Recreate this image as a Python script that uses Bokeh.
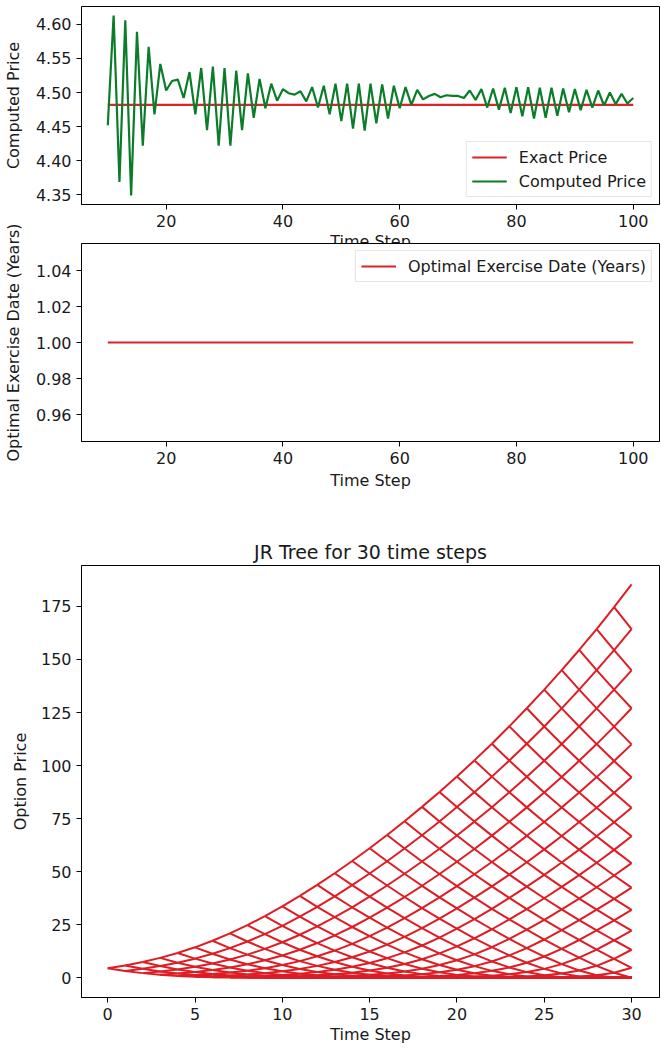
import numpy as np
from bokeh.plotting import figure
from bokeh.layouts import column
from bokeh.models import FixedTicker, PrintfTickFormatter, Legend, LegendItem
from bokeh.embed import file_html
from bokeh.resources import INLINE

# ---------------- data ----------------
time_steps = list(range(10, 101))
computed_price = [
    4.452, 4.613, 4.369, 4.606, 4.349, 4.589, 4.422, 4.567, 4.468, 4.542,   # 10-19
    4.503, 4.517, 4.519, 4.492, 4.530, 4.468, 4.536, 4.445, 4.538, 4.422,   # 20-29
    4.536, 4.422, 4.532, 4.445, 4.528, 4.463, 4.520, 4.477, 4.513, 4.488,   # 30-39
    4.505, 4.499, 4.497, 4.502, 4.487, 4.508, 4.478, 4.510, 4.468, 4.513,   # 40-49
    4.458, 4.513, 4.447, 4.513, 4.444, 4.513, 4.455, 4.512, 4.462, 4.510,   # 50-59
    4.477, 4.508, 4.482, 4.504, 4.490, 4.495, 4.498, 4.493, 4.496, 4.495,   # 60-69
    4.495, 4.492, 4.503, 4.489, 4.505, 4.478, 4.506, 4.475, 4.507, 4.470,   # 70-79
    4.508, 4.465, 4.508, 4.462, 4.507, 4.463, 4.507, 4.466, 4.506, 4.471,   # 80-89
    4.505, 4.474, 4.504, 4.478, 4.503, 4.481, 4.500, 4.483, 4.498, 4.484,   # 90-99
    4.492,                                                                   # 100
]
exact_price = 4.482
exercise_date = 1.00

# JR tree (30 steps): option values at the last step, read from the right edge
tree_steps = 30
terminal_values = [185.4, 164.3, 144.9, 127.0, 110.0, 94.5, 80.1, 66.7, 54.0,
                   42.5, 32.0, 22.2, 13.2, 4.7] + [0.0] * 17
step_discount = 0.9989
up_prob = 0.5

x_ticks_top = [20, 40, 60, 80, 100]
y_ticks_price = [4.35, 4.40, 4.45, 4.50, 4.55, 4.60]
y_ticks_date = [0.96, 0.98, 1.00, 1.02, 1.04]
x_ticks_tree = [0, 5, 10, 15, 20, 25, 30]
y_ticks_tree = [0, 25, 50, 75, 100, 125, 150, 175]

# ---------------- styling helpers ----------------
FONT = "DejaVu Sans"
TXT = "#1a1a1a"
RED = "#d62728"
TREE_RED = "#de1c24"
GREEN = "#0b7d2a"


def style(p):
    p.background_fill_color = "white"
    p.outline_line_color = "black"
    p.outline_line_width = 1
    p.xgrid.visible = False
    p.ygrid.visible = False
    for ax in (p.xaxis, p.yaxis):
        ax.axis_line_color = "black"
        ax.major_tick_out = 5
        ax.major_tick_in = 0
        ax.minor_tick_line_color = None
        ax.major_label_text_font = FONT
        ax.major_label_text_font_size = "16px"
        ax.major_label_text_color = TXT
        ax.axis_label_text_font = FONT
        ax.axis_label_text_font_size = "16px"
        ax.axis_label_text_font_style = "normal"
        ax.axis_label_text_color = TXT
        ax.major_label_standoff = 5


# ---------------- panel 1: computed price ----------------
p1 = figure(width=661, height=256, output_backend="svg", toolbar_location=None,
            x_range=(5.5, 104.5), y_range=(4.3358, 4.6262),
            min_border_left=79, min_border_right=1, min_border_top=6,
            min_border_bottom=52)
style(p1)
p1.xaxis.ticker = FixedTicker(ticks=x_ticks_top)
p1.yaxis.ticker = FixedTicker(ticks=y_ticks_price)
p1.yaxis.formatter = PrintfTickFormatter(format="%.2f")
p1.xaxis.axis_label = "Time Step"
p1.xaxis.axis_label_standoff = 2
p1.yaxis.axis_label = "Computed Price"
p1.yaxis.axis_label_standoff = 10

r_exact = p1.line(time_steps, [exact_price] * len(time_steps), line_color=RED, line_width=2.2)
r_comp = p1.line(time_steps, computed_price, line_color=GREEN, line_width=2.2)
leg1 = Legend(items=[LegendItem(label="Exact Price", renderers=[r_exact]),
                     LegendItem(label="Computed Price", renderers=[r_comp])],
              location="bottom_right")
p1.add_layout(leg1)

# ---------------- panel 2: optimal exercise date ----------------
p2 = figure(width=661, height=278, output_backend="svg", toolbar_location=None,
            x_range=(5.5, 104.5), y_range=(0.945, 1.055),
            min_border_left=79, min_border_right=1, min_border_top=21,
            min_border_bottom=59, margin=(-34, 0, 0, 0))
style(p2)
p2.border_fill_alpha = 0
p2.xaxis.ticker = FixedTicker(ticks=x_ticks_top)
p2.yaxis.ticker = FixedTicker(ticks=y_ticks_date)
p2.yaxis.formatter = PrintfTickFormatter(format="%.2f")
p2.xaxis.axis_label = "Time Step"
p2.xaxis.axis_label_standoff = 4
p2.yaxis.axis_label = "Optimal Exercise Date (Years)"
p2.yaxis.axis_label_standoff = 10
r_date = p2.line(time_steps, [exercise_date] * len(time_steps), line_color=RED, line_width=2.2)
leg2 = Legend(items=[LegendItem(label="Optimal Exercise Date (Years)", renderers=[r_date])],
              location="top_right")
p2.add_layout(leg2)

for lg in (leg1, leg2):
    lg.label_text_font = FONT
    lg.label_text_font_size = "16px"
    lg.label_text_color = TXT
    lg.border_line_color = "#cccccc"
    lg.border_line_width = 1
    lg.background_fill_alpha = 0.9
    lg.glyph_width = 35
    lg.glyph_height = 20
    lg.label_height = 20
    lg.label_standoff = 12
    lg.spacing = 4
    lg.padding = 5
    lg.margin = 7

# ---------------- panel 3: JR tree ----------------
levels = [list(terminal_values)]
for i in range(tree_steps - 1, -1, -1):
    nxt = levels[0]
    cur = [step_discount * (up_prob * nxt[k] + (1 - up_prob) * nxt[k + 1]) for k in range(i + 1)]
    levels.insert(0, cur)

x0, y0, x1, y1 = [], [], [], []
for i in range(tree_steps):
    for k in range(i + 1):
        for kk in (k, k + 1):
            x0.append(i)
            y0.append(levels[i][k])
            x1.append(i + 1)
            y1.append(levels[i + 1][kk])

p3 = figure(width=661, height=549, output_backend="svg", toolbar_location=None,
            x_range=(-1.5, 31.6), y_range=(-9.3, 194.3),
            min_border_left=78, min_border_right=2, min_border_top=65,
            min_border_bottom=52, title="JR Tree for 30 time steps")
style(p3)
p3.title.text_font = FONT
p3.title.text_font_size = "19px"
p3.title.text_font_style = "normal"
p3.title.text_color = TXT
p3.title.align = "center"
p3.title.standoff = 6
p3.xaxis.ticker = FixedTicker(ticks=x_ticks_tree)
p3.yaxis.ticker = FixedTicker(ticks=y_ticks_tree)
p3.xaxis.axis_label = "Time Step"
p3.xaxis.axis_label_standoff = 2
p3.yaxis.axis_label = "Option Price"
p3.yaxis.axis_label_standoff = 8
p3.segment(x0, y0, x1, y1, line_color=TREE_RED, line_width=2.0)

layout = column(p1, p2, p3, spacing=0)
open("out.html", "w").write(file_html(layout, INLINE))
